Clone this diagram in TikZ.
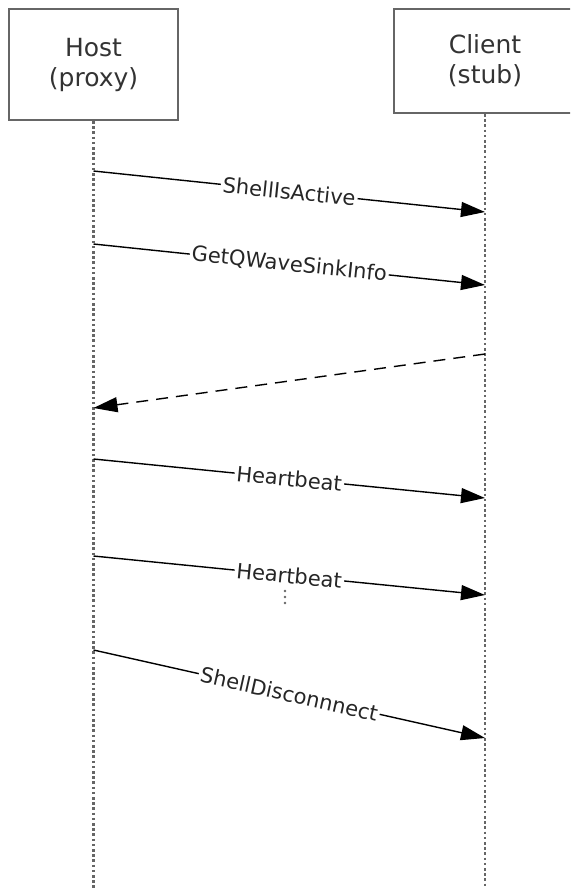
\documentclass[tikz,border=0pt]{standalone}
\usepackage{fontspec}
\setmainfont{DejaVu Sans}
\usetikzlibrary{arrows.meta}

\begin{document}
\begin{tikzpicture}[x=0.5pt,y=-0.5pt,
  actor/.style={draw=black!60,line width=1pt,text=black!80,align=center,inner sep=0pt,
    font=\fontsize{12.5}{15}\selectfont},
  lifeline/.style={draw=black!60,line width=1.3pt,dash pattern=on 1.3pt off 1.3pt},
  msg/.style={line width=0.7pt,-{Triangle[length=12pt,width=7.5pt]}},
  reply/.style={msg,dash pattern=on 6pt off 4pt},
  lbl/.style={sloped,fill=white,inner sep=1pt,text=black!85,font=\fontsize{10.5}{12}\selectfont}]
\useasboundingbox (0,0) rectangle (570,888);
\clip (0,0) rectangle (570,888);
\node[actor,minimum width=84.5pt,minimum height=55.5pt] (host) at (93.5,64.5) {Host\\(proxy)};
\node[actor,minimum width=91pt,minimum height=52pt] (client) at (485,61) {Client\\(stub)};
\coordinate (hostend) at (host |- 0,888);
\coordinate (clientend) at (client |- 0,888);
\draw[lifeline] (host.south) -- (hostend);
\draw[lifeline] (client.south) -- (clientend);
\coordinate (h1) at (host |- 0,171);
\coordinate (c1) at (client |- 0,212);
\coordinate (h2) at (host |- 0,244);
\coordinate (c2) at (client |- 0,285);
\coordinate (c3) at (client |- 0,354);
\coordinate (h3) at (host |- 0,408);
\coordinate (h4) at (host |- 0,459);
\coordinate (c4) at (client |- 0,498);
\coordinate (h5) at (host |- 0,556);
\coordinate (c5) at (client |- 0,595);
\coordinate (h6) at (host |- 0,650);
\coordinate (c6) at (client |- 0,738);
\draw[msg] (h1) -- node[lbl]{ShellIsActive} (c1);
\draw[msg] (h2) -- node[lbl]{GetQWaveSinkInfo} (c2);
\draw[reply] (c3) -- (h3);
\draw[msg] (h4) -- node[lbl]{Heartbeat} (c4);
\draw[msg] (h5) -- node[lbl]{Heartbeat} (c5);
\coordinate (more) at (285,597);
\foreach \dy in {-3pt,0pt,3pt}
  \fill[black!60] ([yshift=\dy]more) circle (0.65pt);
\draw[msg] (h6) -- node[lbl]{ShellDisconnnect} (c6);
\end{tikzpicture}
\end{document}
